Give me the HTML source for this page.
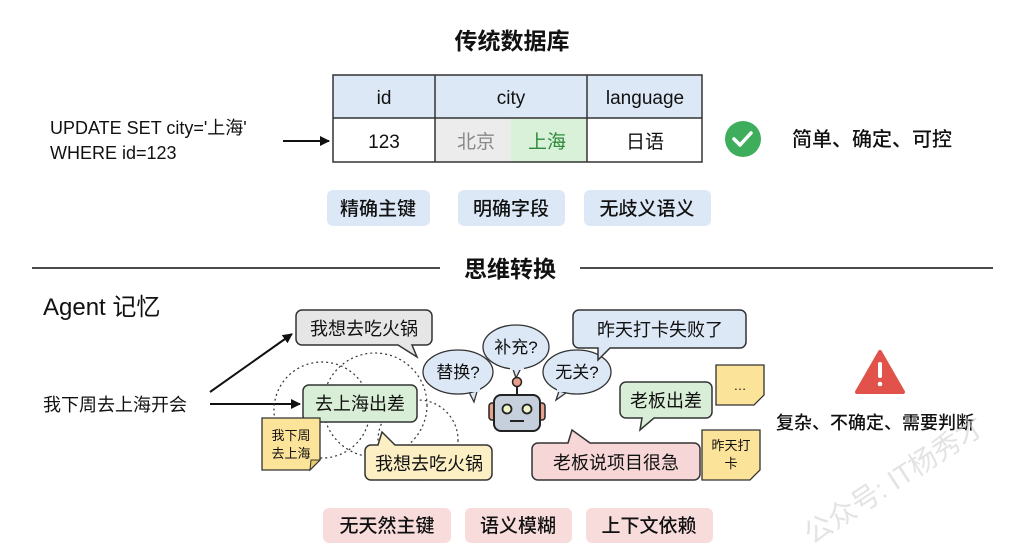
<!DOCTYPE html>
<html><head><meta charset="utf-8"><style>
html,body{margin:0;padding:0;background:#fff;}
svg{display:block;}
text{font-family:"Liberation Sans","Noto Sans CJK SC",sans-serif;}
</style></head><body>
<svg width="1024" height="559" viewBox="0 0 1024 559" xmlns="http://www.w3.org/2000/svg">
<defs>
<marker id="ah" markerWidth="10" markerHeight="10" refX="9" refY="5" orient="auto" markerUnits="userSpaceOnUse"><path d="M0,0 L10,5 L0,10 z" fill="#111"/></marker>
</defs>
<rect width="1024" height="559" fill="#fff"/>
<text x="512" y="49" font-size="23" font-weight="bold" text-anchor="middle" fill="#111">传统数据库</text>
<!-- table -->
<rect x="333" y="75" width="369" height="43" fill="#dce8f5"/>
<rect x="435" y="118" width="76" height="44" fill="#ececec"/>
<rect x="511" y="118" width="76" height="44" fill="#d9f0d9"/>
<rect x="333" y="75" width="369" height="87" fill="none" stroke="#333" stroke-width="1.5"/>
<line x1="333" y1="118" x2="702" y2="118" stroke="#333" stroke-width="1.5"/>
<line x1="435" y1="75" x2="435" y2="162" stroke="#333" stroke-width="1.5"/>
<line x1="587" y1="75" x2="587" y2="162" stroke="#333" stroke-width="1.5"/>
<g font-size="19" text-anchor="middle" fill="#111">
<text x="384" y="104">id</text><text x="511" y="104">city</text><text x="645" y="104">language</text>
<text x="384" y="148">123</text><text x="476" y="148" fill="#888">北京</text><text x="547" y="148" fill="#2e8b3a">上海</text><text x="645" y="148">日语</text>
</g>
<text x="50" y="134" font-size="18" fill="#111">UPDATE SET city='上海'</text>
<text x="50" y="159" font-size="18" fill="#111">WHERE id=123</text>
<line x1="283" y1="141" x2="329" y2="141" stroke="#111" stroke-width="2" marker-end="url(#ah)"/>
<circle cx="743" cy="139" r="18" fill="#3fae5c"/>
<path d="M734,139 l6,6 l11,-12" fill="none" stroke="#fff" stroke-width="3.5" stroke-linecap="round" stroke-linejoin="round"/>
<text x="792" y="146" font-size="20" font-weight="500" fill="#111">简单、确定、可控</text>
<g font-size="19" font-weight="500" text-anchor="middle" fill="#111">
<rect x="327" y="190" width="103" height="36" rx="6" fill="#dce8f5"/><text x="378" y="215">精确主键</text>
<rect x="458" y="190" width="107" height="36" rx="6" fill="#dce8f5"/><text x="511" y="215">明确字段</text>
<rect x="584" y="190" width="127" height="36" rx="6" fill="#dce8f5"/><text x="647" y="215">无歧义语义</text>
</g>
<!-- divider -->
<line x1="32" y1="268" x2="440" y2="268" stroke="#111" stroke-width="1.5"/>
<line x1="580" y1="268" x2="993" y2="268" stroke="#111" stroke-width="1.5"/>
<text x="510" y="277" font-size="23" font-weight="bold" text-anchor="middle" fill="#111">思维转换</text>
<text x="43" y="315" font-size="24" fill="#111">Agent 记忆</text>
<text x="43" y="411" font-size="18" fill="#111">我下周去上海开会</text>
<line x1="210" y1="392" x2="292" y2="334" stroke="#111" stroke-width="2" marker-end="url(#ah)"/>
<line x1="210" y1="404" x2="300" y2="404" stroke="#111" stroke-width="2" marker-end="url(#ah)"/>
<!-- dotted circles -->
<g fill="none" stroke="#333" stroke-width="1.2" stroke-dasharray="2,3">
<circle cx="322" cy="410" r="48"/>
<circle cx="375" cy="405" r="52"/>
<circle cx="418" cy="440" r="40"/>
</g>
<!-- bubbles left -->
<path d="M302,310 H426 a6,6 0 0 1 6,6 V339 a6,6 0 0 1 -6,6 H412 L417,357 L398,345 H302 a6,6 0 0 1 -6,-6 V316 a6,6 0 0 1 6,-6z" fill="#e6e6e6" stroke="#333" stroke-width="1.5"/>
<text x="364" y="335" font-size="18" text-anchor="middle" fill="#111">我想去吃火锅</text>
<rect x="303" y="385" width="114" height="37" rx="6" fill="#d9eed6" stroke="#333" stroke-width="1.5"/>
<text x="360" y="410" font-size="18" text-anchor="middle" fill="#111">去上海出差</text>
<path d="M262,418 H320 V460 L310,470 H262z" fill="#fbe39a" stroke="#333" stroke-width="1.3"/>
<path d="M320,460 L310,470 L311,460z" fill="#e8c86a" stroke="#333" stroke-width="1"/>
<text x="291" y="440" font-size="13" text-anchor="middle" fill="#111">我下周</text>
<text x="291" y="458" font-size="13" text-anchor="middle" fill="#111">去上海</text>
<path d="M371,445 H378 L382,432 L395,445 H486 a6,6 0 0 1 6,6 V474 a6,6 0 0 1 -6,6 H371 a6,6 0 0 1 -6,-6 V451 a6,6 0 0 1 6,-6z" fill="#fcefc4" stroke="#333" stroke-width="1.5"/>
<text x="429" y="470" font-size="18" text-anchor="middle" fill="#111">我想去吃火锅</text>
<!-- robot thought bubbles -->
<g stroke="#333" stroke-width="1.3" fill="#dce8f5">
<path d="M468,390 L474,402 L478,388z"/>
<ellipse cx="458" cy="372" rx="35" ry="22"/>
<path d="M512,366 L516,378 L522,366z"/>
<ellipse cx="516" cy="347" rx="33" ry="22"/>
<path d="M560,388 L556,400 L570,390z"/>
<ellipse cx="577" cy="372" rx="34" ry="22"/>
</g>
<g fill="#dce8f5"><rect x="466" y="384" width="14" height="8"/><rect x="510" y="362" width="14" height="8"/><rect x="557" y="384" width="14" height="8"/></g>
<g font-size="17" text-anchor="middle" fill="#111">
<text x="458" y="378">替换?</text><text x="516" y="353">补充?</text><text x="577" y="378">无关?</text>
</g>
<!-- robot -->
<line x1="517" y1="386" x2="517" y2="395" stroke="#222" stroke-width="2"/>
<circle cx="517" cy="382" r="4.5" fill="#e8a08a" stroke="#222" stroke-width="1.5"/>
<rect x="489" y="403" width="7" height="17" rx="3" fill="#e8a08a" stroke="#222" stroke-width="1.5"/>
<rect x="538" y="403" width="7" height="17" rx="3" fill="#e8a08a" stroke="#222" stroke-width="1.5"/>
<rect x="494" y="395" width="46" height="36" rx="7" fill="#c5d0dc" stroke="#222" stroke-width="2"/>
<circle cx="507" cy="409" r="4.5" fill="#eef3c8" stroke="#222" stroke-width="1.8"/>
<circle cx="527" cy="409" r="4.5" fill="#eef3c8" stroke="#222" stroke-width="1.8"/>
<line x1="510" y1="421" x2="524" y2="421" stroke="#222" stroke-width="2"/>
<!-- right bubbles -->
<path d="M579,310 H740 a6,6 0 0 1 6,6 V342 a6,6 0 0 1 -6,6 H610 L598,360 L598,348 H579 a6,6 0 0 1 -6,-6 V316 a6,6 0 0 1 6,-6z" fill="#dce8f5" stroke="#333" stroke-width="1.5"/>
<text x="660" y="336" font-size="18" text-anchor="middle" fill="#111">昨天打卡失败了</text>
<path d="M716,365 H764 V395 L754,405 H716z" fill="#fbe39a" stroke="#333" stroke-width="1.3"/>
<text x="740" y="390" font-size="13" text-anchor="middle" fill="#111">…</text>
<path d="M626,382 H706 a6,6 0 0 1 6,6 V412 a6,6 0 0 1 -6,6 H654 L640,430 L642,418 H626 a6,6 0 0 1 -6,-6 V388 a6,6 0 0 1 6,-6z" fill="#d9eed6" stroke="#333" stroke-width="1.5"/>
<text x="666" y="407" font-size="18" text-anchor="middle" fill="#111">老板出差</text>
<path d="M538,443 H568 L572,430 L590,443 H694 a6,6 0 0 1 6,6 V474 a6,6 0 0 1 -6,6 H538 a6,6 0 0 1 -6,-6 V449 a6,6 0 0 1 6,-6z" fill="#f6d6d6" stroke="#333" stroke-width="1.5"/>
<text x="616" y="469" font-size="18" text-anchor="middle" fill="#111">老板说项目很急</text>
<path d="M702,430 H760 V470 L750,480 H702z" fill="#fbe39a" stroke="#333" stroke-width="1.3"/>
<text x="731" y="450" font-size="13" text-anchor="middle" fill="#111">昨天打</text>
<text x="731" y="468" font-size="13" text-anchor="middle" fill="#111">卡</text>
<!-- warning -->
<path d="M880,352 L903,392 H857z" fill="#e0524a" stroke="#e0524a" stroke-width="4" stroke-linejoin="round"/>
<rect x="878" y="362" width="4" height="16" rx="2" fill="#fff"/>
<circle cx="880" cy="384" r="2.3" fill="#fff"/>
<text x="776" y="429" font-size="18" font-weight="500" fill="#111">复杂、不确定、需要判断</text>
<!-- bottom tags -->
<g font-size="19" font-weight="500" text-anchor="middle" fill="#111">
<rect x="323" y="508" width="128" height="35" rx="6" fill="#f8dcdc"/><text x="387" y="532">无天然主键</text>
<rect x="465" y="508" width="107" height="35" rx="6" fill="#f8dcdc"/><text x="518" y="532">语义模糊</text>
<rect x="586" y="508" width="127" height="35" rx="6" fill="#f8dcdc"/><text x="649" y="532">上下文依赖</text>
</g>
<text x="0" y="0" font-size="28" fill="#ccc" fill-opacity="0.55" transform="translate(812,545) rotate(-33)">公众号: IT杨秀才</text>
</svg>
</body></html>
